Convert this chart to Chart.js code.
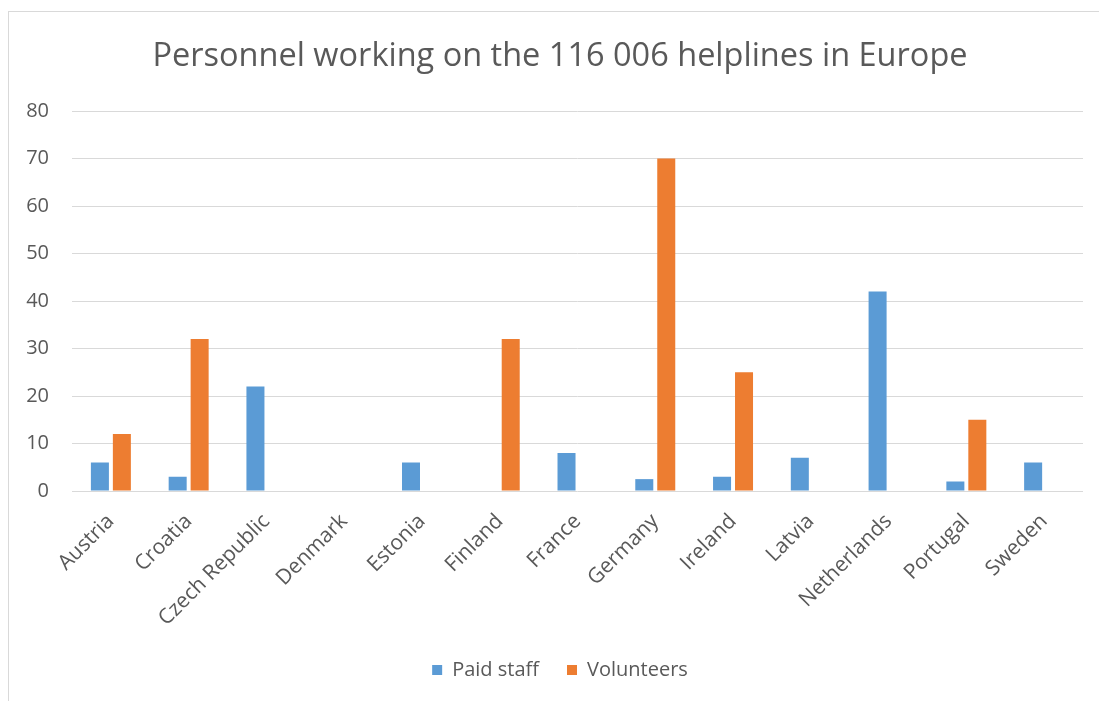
<!DOCTYPE html>
<html>
<head>
<meta charset="utf-8">
<script src="https://cdn.jsdelivr.net/npm/chart.js@4/dist/chart.umd.min.js"></script>
<style>
  html, body { margin: 0; padding: 0; background: #fff; overflow: hidden; }
  #chartContainer {
    position: absolute;
    left: 8px;
    top: 11px;
    width: 1104px;
    height: 700px;
    border: 1px solid #D9D9D9;
  }
</style>
</head>
<body>
<div id="chartContainer">
  <canvas id="personnelChart" width="1104" height="700"></canvas>
</div>
<script>
const countries = ['Austria', 'Croatia', 'Czech Republic', 'Denmark', 'Estonia', 'Finland', 'France',
                   'Germany', 'Ireland', 'Latvia', 'Netherlands', 'Portugal', 'Sweden'];
const paidStaff  = [6, 3, 22, 0, 6, 0, 8, 2.5, 3, 7, 42, 2, 6];
const volunteers = [12, 32, 0, 0, 0, 32, 0, 70, 25, 0, 0, 15, 0];

const textColor = '#595959';
const gridColor = '#D9D9D9';

const ctx = document.getElementById('personnelChart').getContext('2d');

new Chart(ctx, {
    type: 'bar',
    data: {
        labels: countries,
        datasets: [
            {
                label: 'Paid staff',
                data: paidStaff,
                backgroundColor: '#5B9BD5',
                borderWidth: 0,
                barPercentage: 0.82,
                categoryPercentage: 0.565
            },
            {
                label: 'Volunteers',
                data: volunteers,
                backgroundColor: '#ED7D31',
                borderWidth: 0,
                barPercentage: 0.82,
                categoryPercentage: 0.565
            }
        ]
    },
    options: {
        responsive: false,
        animation: false,
        layout: {
            padding: { left: 17, right: 19, top: 0, bottom: 22 }
        },
        scales: {
            x: {
                grid: { display: false },
                border: { display: false },
                ticks: {
                    color: textColor,
                    font: { family: 'Open Sans', size: 21 },
                    minRotation: 45,
                    maxRotation: 45,
                    autoSkip: false,
                    padding: 10
                },
                afterFit: scale => { scale.height = 141; }
            },
            y: {
                min: 0,
                max: 80,
                grid: { color: gridColor, lineWidth: 1, drawTicks: false },
                border: { display: false },
                ticks: {
                    stepSize: 10,
                    color: textColor,
                    font: { family: 'Open Sans', size: 20 },
                    padding: 23
                },
                afterFit: scale => { scale.width = 46; }
            },
            // empty spacer on the right so title/legend centre like the original
            yRight: {
                type: 'linear',
                position: 'right',
                grid: { display: false },
                border: { display: false },
                ticks: { display: false },
                afterFit: scale => { scale.width = 11; }
            }
        },
        plugins: {
            title: {
                display: true,
                text: 'Personnel working on the 116 006 helplines in Europe',
                color: textColor,
                font: { family: 'Open Sans', size: 32.5, weight: 'normal' },
                padding: { top: 25, bottom: 35 }
            },
            legend: {
                position: 'bottom',
                labels: {
                    color: textColor,
                    font: { family: 'Open Sans', size: 20 },
                    boxWidth: 10,
                    boxHeight: 10,
                    padding: 28
                }
            },
            tooltip: { enabled: false }
        }
    }
});
</script>
</body>
</html>
